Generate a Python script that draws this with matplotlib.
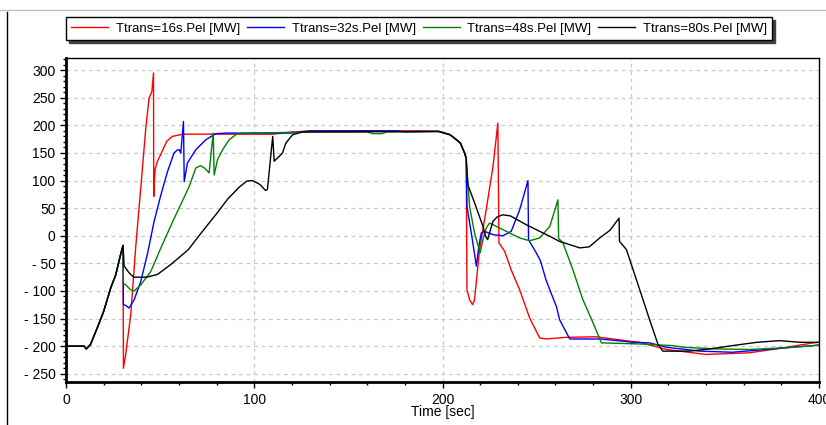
import matplotlib
matplotlib.use("Agg")
import matplotlib.pyplot as plt
from matplotlib.ticker import MultipleLocator, FuncFormatter
from matplotlib.lines import Line2D

plt.rcParams['font.family'] = ['Liberation Sans Narrow', 'Liberation Sans', 'DejaVu Sans']
plt.rcParams['font.size'] = 10

## shared start (all runs identical before the transient)
t_start = [0, 9.6, 10.8, 13, 16.6, 20, 23.8, 26.4, 29, 30.3]
p_start = [-200, -200, -205, -197, -167, -137, -94, -71, -34, -17.5]

## shared ramp-down after 200 s
t_down = [198, 200, 204, 207, 209.5, 211.7, 212.6]
p_down = [189, 187, 183, 175, 168, 150, 140]

t_16 = [30.5, 31.7, 34.4, 37, 39.7, 42.4, 44.1, 45.6, 46.5, 46.6, 47.3, 48.6, 50, 52, 53.5,
        56.5, 62, 110, 120, 130, 190]
p_16 = [-240, -215, -143, -22, 86, 195, 249, 261, 295, 71, 120, 135, 145, 160, 171,
        180, 184, 184, 188, 190, 190]
t_16b = [213, 214.4, 216, 217, 219.7, 223.2, 226.8, 229.4, 230, 233, 236.5, 241, 246.3, 251.6,
         255, 265.8, 281.7, 290.4, 299.5, 304.8, 319, 340, 363, 381, 397, 400]
p_16b = [-98, -116, -125, -116, -25, 47, 125, 204, -13, -28, -62, -98, -149, -185,
         -187, -184, -183, -187, -191, -193, -206, -215, -212, -203, -194, -193]

t_32 = [30.5, 31.7, 33.5, 36.2, 39.7, 43.2, 46.8, 50.4, 53.9, 57.4, 59, 60.1, 61, 62.4, 62.8,
        64.5, 69, 74.3, 79.6, 85, 120, 130, 176, 180]
p_32 = [-125, -126, -131, -116, -83, -34, 26, 74, 116, 150, 155, 156, 150, 207, 98,
        132, 156, 174, 185, 186, 186, 190, 190, 188]
t_32b = [213, 215.3, 218, 219.3, 220.6, 222.3, 226.8, 232, 236.5, 241, 245.4, 245.7, 249.8,
         252, 255, 257, 260.5, 262.2, 267.6, 283.5, 296, 301, 310, 319, 336.7, 354, 372, 397, 400]
p_32b = [53, 5, -55, -19, 5, 8, 2, 0, 8, 47, 100, -7, -31,
         -45, -80, -98, -128, -152, -187, -187, -191, -193, -194, -202, -209, -211, -206, -199, -198]

t_48 = [30.5, 31.7, 34.4, 36.2, 39.7, 45, 50.4, 57, 65.4, 69, 71.6, 73.4, 76, 78.2, 78.7,
        80.5, 83.2, 86.7, 91, 100, 130, 160, 163, 168, 170]
p_48 = [-86, -89, -98, -100, -89, -65, -22, 28, 89, 123, 127, 123, 114, 186, 110,
        138, 156, 174, 185, 186, 188, 188, 185, 185, 188]
t_48b = [213, 214.4, 217, 220, 221.5, 223.2, 225, 228.6, 233.9, 241, 246.3, 251.6, 257, 261.3,
         261.7, 264, 269.3, 274.6, 280, 284.4, 304.8, 322.5, 328, 345.5, 363, 381, 397, 400]
p_48b = [116, 53, 5, -31, -7, 14, 23, 17, 8, -4, -9, -4, 17, 65,
         -5, -13, -62, -116, -158, -194, -196, -199, -202, -205, -206, -203, -199, -198]

t_80 = [30.9, 33.5, 36, 43, 48.6, 55.7, 65, 72.5, 80, 86, 92, 96, 99, 103, 106, 107, 109.8,
        110.6, 113, 115, 116.8, 120.4, 125.5]
p_80 = [-55, -67, -75, -75, -70, -52, -25, 8, 40, 67, 88, 99, 100, 93, 82, 84, 180,
        135, 143, 150, 168, 183, 188]
t_80b = [213.5, 217, 221.5, 223, 224, 225, 226.8, 229, 232, 236, 244.5, 257, 262, 273, 278,
         283.5, 289, 293.8, 294, 297.7, 304.8, 310, 314.5, 317, 331, 342, 354, 367, 379, 390, 400]
p_80b = [92, 60, 17, -2, -7, 5, 26, 34, 38, 36, 20, -1, -10, -22, -20,
         -4, 10, 32, -10, -25, -98, -152, -197, -209, -209, -205, -199, -193, -190, -193, -193]

series = [
    ('Ttrans=16s.Pel [MW]', '#ff0000', t_16, p_16, t_16b, p_16b),
    ('Ttrans=32s.Pel [MW]', '#0000ff', t_32, p_32, t_32b, p_32b),
    ('Ttrans=48s.Pel [MW]', '#008000', t_48, p_48, t_48b, p_48b),
    ('Ttrans=80s.Pel [MW]', '#000000', t_80, p_80, t_80b, p_80b),
]

fig = plt.figure(figsize=(8.26, 4.25), dpi=100)
ax = fig.add_axes([66/826, 1-381.5/425, (819-66)/826, (381.5-58)/425])

for name, col, ta, pa, tb, pb in series:
    t = t_start + ta + t_down + tb
    p = p_start + pa + p_down + pb
    ax.plot(t, p, color=col, lw=1.0, label=name)

ax.set_xlim(0, 400)
ax.set_ylim(-264, 322)
ax.xaxis.set_major_locator(MultipleLocator(100))
ax.xaxis.set_minor_locator(MultipleLocator(20))
ax.yaxis.set_major_locator(MultipleLocator(50))
ax.yaxis.set_minor_locator(MultipleLocator(10))
ax.yaxis.set_major_formatter(FuncFormatter(lambda v, pos: f"- {abs(int(v))}" if v < 0 else f"{int(v)}"))
ax.tick_params(which='major', direction='out', length=4, width=1, labelsize=10)
ax.tick_params(which='minor', direction='out', length=2.5, width=1)
ax.tick_params(axis='x', pad=4)
ax.grid(True, which='major', color='#c8c8c8', linestyle=(0, (3, 3)), lw=0.9)
for s in ('left', 'bottom'):
    ax.spines[s].set_linewidth(2)
for s in ('top', 'right'):
    ax.spines[s].set_linewidth(1)
ax.set_xlabel('Time [sec]', labelpad=-1)

leg = fig.legend(loc='upper left', bbox_to_anchor=(66/826, 1-17/425), ncol=4,
                 frameon=True, fancybox=False, shadow={'color': '#404040', 'alpha': 1},
                 handlelength=2.8, handletextpad=0.6, columnspacing=0.5,
                 borderpad=0.4, borderaxespad=0, fontsize=9.5)
leg.get_frame().set_edgecolor('black')
leg.get_frame().set_linewidth(1)

## window frame lines
fig.add_artist(Line2D([0, 1], [1-10/425, 1-10/425], color='#c0c0c0', lw=1))
fig.add_artist(Line2D([7/826, 7/826], [0, 1-12/425], color='black', lw=1))

plt.savefig("out.png", dpi=100)
